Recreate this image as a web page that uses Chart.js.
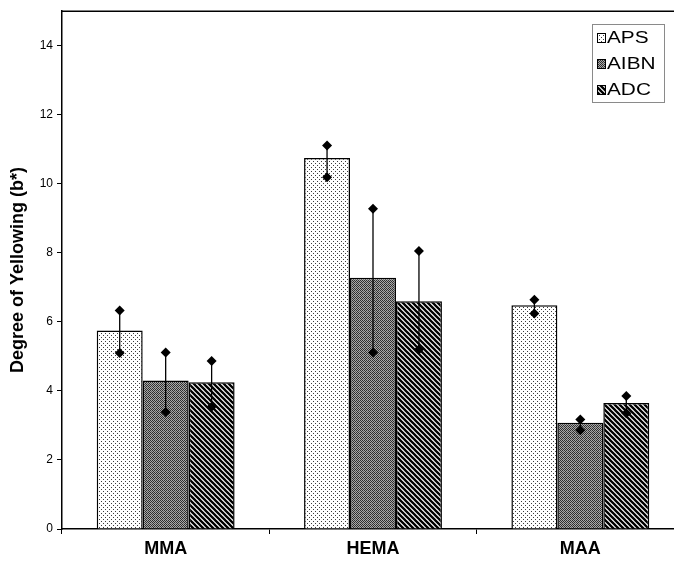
<!DOCTYPE html>
<html>
<head>
<meta charset="utf-8">
<script src="https://cdn.jsdelivr.net/npm/chart.js@4"></script>
<style>
    html, body { margin: 0; padding: 0; background: #fff; overflow: hidden; width: 674px; height: 565px; }
    canvas { display: block; }
</style>
</head>
<body>
<canvas id="chart" width="690" height="565"></canvas>
<script>
// Degree of yellowing by monomer and initiator
const monomers = ['MMA', 'HEMA', 'MAA'];
const initiators = ['APS', 'AIBN', 'ADC'];

const apsValues = [5.75, 10.75, 6.48];
const aibnValues = [4.3, 7.28, 3.08];
const adcValues = [4.25, 6.6, 3.65];

// upper / lower diamond markers (spread of measurements)
const apsHigh = [6.33, 11.11, 6.64];
const apsLow = [5.1, 10.19, 6.24];
const aibnHigh = [5.11, 9.28, 3.17];
const aibnLow = [3.39, 5.11, 2.86];
const adcHigh = [4.87, 8.05, 3.85];
const adcLow = [3.54, 5.2, 3.35];

const yTicks = [0, 2, 4, 6, 8, 10, 12, 14];

// Fill patterns imitating the printed hatching
function makeTile(size, draw) {
    const c = document.createElement('canvas');
    c.width = size;
    c.height = size;
    const g = c.getContext('2d');
    draw(g, size);
    return document.createElement('canvas').getContext('2d').createPattern(c, 'repeat');
}

const dotted = makeTile(4, (g) => {
    g.fillStyle = '#ffffff';
    g.fillRect(0, 0, 4, 4);
    g.fillStyle = '#3c3c3c';
    g.fillRect(1, 1, 1, 1);
    g.fillRect(3, 3, 1, 1);
});

const checkered = makeTile(4, (g) => {
    g.fillStyle = '#a8a8a8';
    g.fillRect(0, 0, 4, 4);
    g.fillStyle = '#2e2e2e';
    g.fillRect(0, 0, 1, 1);
    g.fillRect(2, 0, 1, 1);
    g.fillRect(1, 1, 1, 1);
    g.fillRect(3, 1, 1, 1);
    g.fillRect(0, 2, 1, 1);
    g.fillRect(2, 2, 1, 1);
    g.fillRect(1, 3, 1, 1);
    g.fillStyle = '#5a5a5a';
    g.fillRect(3, 3, 1, 1);
});

const striped = makeTile(5, (g, n) => {
    g.fillStyle = '#ffffff';
    g.fillRect(0, 0, n, n);
    g.strokeStyle = '#000000';
    g.lineWidth = 2.3;
    g.beginPath();
    for (let k = -1; k <= 1; k++) {
        g.moveTo(k * n - 1, -1);
        g.lineTo(k * n + n + 1, n + 1);
    }
    g.stroke();
});

const fills = [dotted, checkered, striped];
const highs = [apsHigh, aibnHigh, adcHigh];
const lows = [apsLow, aibnLow, adcLow];

function diamond(ctx, x, y, r) {
    ctx.beginPath();
    ctx.moveTo(x, y - r);
    ctx.lineTo(x + r, y);
    ctx.lineTo(x, y + r);
    ctx.lineTo(x - r, y);
    ctx.closePath();
    ctx.fill();
}

const extrasPlugin = {
    id: 'extras',
    afterDatasetsDraw(chart) {
        const ctx = chart.ctx;
        const y = chart.scales.y;
        const area = chart.chartArea;
        ctx.save();

        // frame top and right
        ctx.strokeStyle = '#000';
        ctx.lineWidth = 1.5;
        ctx.beginPath();
        ctx.moveTo(area.left, area.top);
        ctx.lineTo(area.right, area.top);
        ctx.lineTo(area.right, area.bottom);
        ctx.stroke();

        // diamonds joined by a line
        ctx.fillStyle = '#000';
        ctx.lineWidth = 1.3;
        chart.data.datasets.forEach((ds, i) => {
            const meta = chart.getDatasetMeta(i);
            meta.data.forEach((bar, j) => {
                const yHi = y.getPixelForValue(highs[i][j]);
                const yLo = y.getPixelForValue(lows[i][j]);
                ctx.beginPath();
                ctx.moveTo(bar.x, yHi);
                ctx.lineTo(bar.x, yLo);
                ctx.stroke();
                diamond(ctx, bar.x, yHi, 5);
                diamond(ctx, bar.x, yLo, 5);
            });
        });

        // legend box
        const lx = 592, ly = 24, lw = 72, lh = 78;
        ctx.fillStyle = '#fff';
        ctx.fillRect(lx, ly, lw, lh);
        ctx.strokeStyle = '#8a8a8a';
        ctx.lineWidth = 1;
        ctx.strokeRect(lx + 0.5, ly + 0.5, lw, lh);
        ctx.font = '16px Arial, "Liberation Sans", sans-serif';
        ctx.textBaseline = 'middle';
        initiators.forEach((name, i) => {
            const cy = ly + 14 + i * 26;
            ctx.fillStyle = fills[i];
            ctx.fillRect(597, cy - 5, 9, 10);
            ctx.strokeStyle = '#000';
            ctx.strokeRect(597.5, cy - 4.5, 8, 9);
            ctx.fillStyle = '#000';
            ctx.save();
            ctx.translate(607, cy + 1);
            ctx.scale(1.3, 1);
            ctx.fillText(name, 0, 0);
            ctx.restore();
        });
        ctx.restore();
    }
};

const valueSets = [apsValues, aibnValues, adcValues];

new Chart(document.getElementById('chart'), {
    type: 'bar',
    data: {
        labels: monomers,
        datasets: initiators.map((name, i) => ({
            label: name,
            data: valueSets[i],
            backgroundColor: fills[i],
            borderColor: '#000',
            borderWidth: 1.5,
            categoryPercentage: 0.665,
            barPercentage: 1.0
        }))
    },
    options: {
        responsive: false,
        animation: false,
        layout: { padding: { top: 10, right: 6, left: 0, bottom: 0 } },
        plugins: {
            legend: { display: false },
            tooltip: { enabled: false }
        },
        scales: {
            x: {
                afterFit: (s) => { s.height = 36; },
                border: { color: '#000', width: 1.5 },
                grid: { display: true, drawOnChartArea: false, drawTicks: true, tickLength: 5, color: '#000', offset: true },
                ticks: {
                    color: '#000',
                    padding: 4,
                    font: { family: 'Arial, "Liberation Sans", sans-serif', size: 18, weight: 'bold' }
                }
            },
            y: {
                min: 0,
                max: 15,
                afterFit: (s) => { s.width = 62; },
                afterBuildTicks: (s) => { s.ticks = yTicks.map(v => ({ value: v })); },
                border: { color: '#000', width: 1.5 },
                grid: { display: true, drawOnChartArea: false, drawTicks: true, tickLength: 5, color: '#000' },
                ticks: {
                    color: '#000',
                    padding: 4,
                    font: { family: 'Arial, "Liberation Sans", sans-serif', size: 12 }
                },
                title: {
                    display: true,
                    text: 'Degree of Yellowing (b*)',
                    color: '#000',
                    padding: { top: 7, bottom: 0 },
                    font: { family: 'Arial, "Liberation Sans", sans-serif', size: 18, weight: 'bold' }
                }
            }
        }
    },
    plugins: [extrasPlugin]
});
</script>
</body>
</html>
